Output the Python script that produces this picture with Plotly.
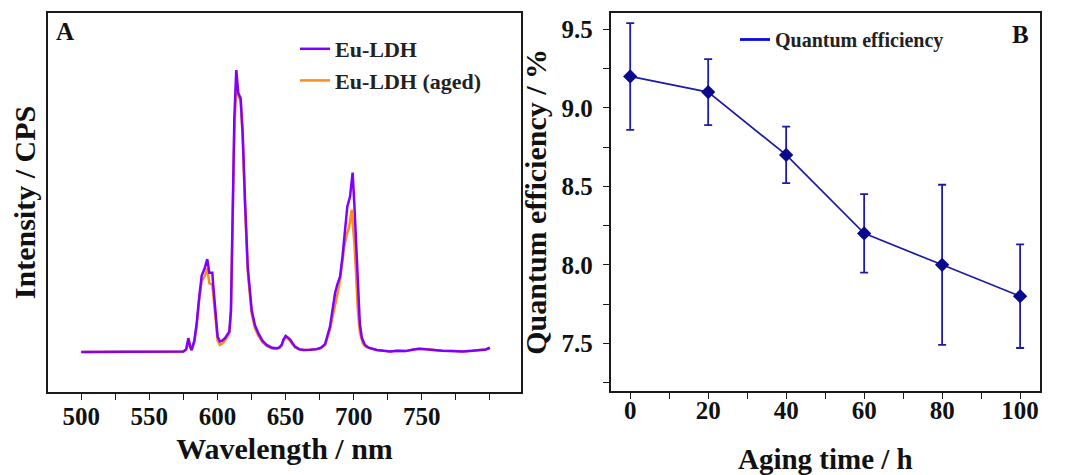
import plotly.graph_objects as go

# ---------------- Data ----------------
# Panel A: emission spectra (normalised intensity, arbitrary units)
wl_eu = [500, 520, 540, 560, 575, 577, 578.6, 580, 581, 583, 584.7, 586.5, 588.4, 590.8, 592.5,
         594, 596.2, 597, 598.2, 600.1, 601.8, 603.5, 605.5, 608.7, 609.9, 611.1, 612.4, 613.8,
         615.3, 617, 618.5, 620.2, 622.2, 625.1, 627.5, 630, 633, 636.1, 640, 643.5, 645.5,
         647.1, 648.5, 650.1, 651.5, 653.2, 655, 656.9, 660, 663, 668, 672.8, 676, 679, 682.6,
         685, 686.3, 688, 690, 691.8, 693.6, 695.3, 697.3, 698.3, 699.2, 700.5, 702.1, 703.3,
         704.5, 706, 708.2, 711, 716.9, 722, 726.6, 732, 738, 743, 748, 753, 758, 765, 772,
         780, 787, 793, 797, 800]
int_eu = [0.000, 0.000, 0.001, 0.001, 0.002, 0.010, 0.049, 0.020, 0.007, 0.040, 0.100, 0.190,
          0.270, 0.300, 0.329, 0.281, 0.281, 0.230, 0.149, 0.054, 0.037, 0.040, 0.049, 0.072,
          0.149, 0.480, 0.834, 1.000, 0.917, 0.900, 0.776, 0.539, 0.303, 0.149, 0.095, 0.066,
          0.040, 0.025, 0.015, 0.013, 0.016, 0.025, 0.045, 0.057, 0.052, 0.045, 0.032, 0.019,
          0.010, 0.007, 0.008, 0.010, 0.015, 0.028, 0.090, 0.160, 0.208, 0.240, 0.267, 0.340,
          0.433, 0.515, 0.551, 0.590, 0.636, 0.520, 0.362, 0.220, 0.100, 0.050, 0.025, 0.015,
          0.007, 0.004, 0.002, 0.004, 0.003, 0.008, 0.011, 0.010, 0.007, 0.004, 0.003, 0.002,
          0.004, 0.006, 0.009, 0.015]

wl_aged = [500, 520, 540, 560, 575, 577, 578.6, 580, 581, 583, 584.7, 586.5, 588.4, 590.8,
           592.5, 594, 596.2, 597, 598.2, 600.1, 601.8, 603.5, 605.5, 608.7, 609.9, 611.1,
           612.4, 613.8, 615.3, 617, 618.5, 620.2, 622.2, 625.1, 627.5, 630, 633, 636.1, 640,
           643.5, 645.5, 647.1, 648.5, 650.1, 651.5, 653.2, 655, 656.9, 660, 663, 668, 672.8,
           676, 679, 682.6, 685, 687.5, 689.5, 691.2, 693, 694.8, 696.7, 698.5, 700.5, 702,
           703, 704.5, 706.6, 709, 716.9, 722, 726.6, 732, 738, 743, 748, 753, 758, 765, 772,
           780, 787, 793, 797, 800]
int_aged = [0.000, 0.000, 0.001, 0.001, 0.002, 0.008, 0.035, 0.015, 0.006, 0.035, 0.090, 0.180,
            0.250, 0.270, 0.297, 0.244, 0.238, 0.200, 0.130, 0.040, 0.025, 0.030, 0.040, 0.065,
            0.140, 0.450, 0.790, 0.939, 0.910, 0.890, 0.760, 0.520, 0.285, 0.135, 0.085, 0.058,
            0.035, 0.021, 0.012, 0.011, 0.014, 0.022, 0.040, 0.052, 0.048, 0.040, 0.028, 0.016,
            0.009, 0.007, 0.008, 0.010, 0.014, 0.025, 0.080, 0.140, 0.196, 0.240, 0.302, 0.370,
            0.415, 0.444, 0.504, 0.385, 0.250, 0.149, 0.070, 0.031, 0.018, 0.007, 0.004, 0.002,
            0.004, 0.003, 0.008, 0.011, 0.010, 0.007, 0.004, 0.003, 0.002, 0.004, 0.006, 0.009,
            0.015]

# Panel B: quantum efficiency vs aging time
aging_time = [0, 20, 40, 60, 80, 100]
quantum_eff = [9.2, 9.1, 8.7, 8.2, 8.0, 7.8]
qe_err = [0.34, 0.21, 0.18, 0.25, 0.51, 0.33]

a_tickvals = [500, 550, 600, 650, 700, 750, 800]
a_ticktext = ["500", "550", "600", "650", "700", "750", ""]
b_xticks = [0, 20, 40, 60, 80, 100]
b_yticks = [7.5, 8.0, 8.5, 9.0, 9.5]

# ---------------- Style ----------------
FONT = "Liberation Serif"
PURPLE = "#8000FF"
ORANGE = "#FF8C1A"
NAVY = "#1C1CA8"
OFF = 8                      # default page (body) margin of the html page
W, H = 1089 - OFF, 475 - OFF


def fx(px):
    return (px - OFF) / W


def fy(py):
    return 1 - (py - OFF) / H


fig = go.Figure()

fig.add_trace(go.Scatter(x=wl_aged, y=int_aged, mode="lines", name="Eu-LDH (aged)",
                         line=dict(color=ORANGE, width=2.5), xaxis="x", yaxis="y",
                         legend="legend", legendrank=2, legendgroup="aged"))
fig.add_trace(go.Scatter(x=wl_eu, y=int_eu, mode="lines", name="Eu-LDH",
                         line=dict(color=PURPLE, width=2.5), xaxis="x", yaxis="y",
                         legend="legend", legendrank=1, legendgroup="eu"))

fig.add_trace(go.Scatter(x=aging_time, y=quantum_eff, mode="lines+markers",
                         name="Quantum efficiency", showlegend=False,
                         line=dict(color=NAVY, width=1.7),
                         marker=dict(symbol="diamond", size=11, color="#0A0A8C"),
                         error_y=dict(type="data", array=qe_err, visible=True,
                                      color=NAVY, thickness=1.8, width=4),
                         xaxis="x2", yaxis="y2"))
# legend entry for panel B
fig.add_trace(go.Scatter(x=[None], y=[None], mode="lines", name="Quantum efficiency",
                         line=dict(color="#0A0AE0", width=2.8), xaxis="x2", yaxis="y2",
                         legend="legend2"))

axis_common = dict(showline=True, mirror=True, linecolor="#1a1a1a", linewidth=1.7,
                   showgrid=False, zeroline=False, ticks="outside", ticklen=6,
                   tickwidth=1.3, tickcolor="#1a1a1a", automargin=False,
                   tickfont=dict(family=FONT, size=25, color="#111", weight="bold"))

fig.update_layout(
    width=W, height=H,
    paper_bgcolor="white", plot_bgcolor="white",
    margin=dict(l=0, r=0, t=0, b=0, autoexpand=False),
    font=dict(family=FONT, color="#111"),
    xaxis=dict(**axis_common, domain=[fx(48), fx(521)], anchor="y",
               range=[475.6, 822.8], tickvals=a_tickvals, ticktext=a_ticktext,
               ticklabelstandoff=-5,
               minor=dict(dtick=25, tick0=500, ticks="outside", ticklen=6, tickwidth=1.3,
                          tickcolor="#1a1a1a"),
               title=dict(text="Wavelength / nm", standoff=9,
                          font=dict(family=FONT, size=30, weight="bold"))),
    yaxis=dict(showline=True, mirror=True, linecolor="#1a1a1a", linewidth=1.7,
               showgrid=False, zeroline=False, showticklabels=False, ticks="",
               automargin=False,
               domain=[fy(392), fy(13)], anchor="x", range=[-0.142, 1.202],
               title=dict(text="Intensity / CPS", standoff=8,
                          font=dict(family=FONT, size=30, weight="bold"))),
    xaxis2=dict(**axis_common, domain=[fx(610.7), fx(1040)], anchor="y2",
                range=[-5, 105.1], tickvals=b_xticks, ticklabelstandoff=-10,
                minor=dict(dtick=10, tick0=0, ticks="outside", ticklen=6, tickwidth=1.3,
                           tickcolor="#1a1a1a"),
                title=dict(text="Aging time / h", standoff=26,
                           font=dict(family=FONT, size=29, weight="bold"))),
    yaxis2=dict(**axis_common, domain=[fy(390.7), fy(13)], anchor="x2",
                range=[7.198, 9.604], tickvals=b_yticks, tickformat=".1f",
                ticklabelstandoff=5,
                minor=dict(dtick=0.25, tick0=7.25, ticks="outside", ticklen=6, tickwidth=1.3,
                           tickcolor="#1a1a1a"),
                title=dict(text="Quantum efficiency / %", standoff=6,
                           font=dict(family=FONT, size=30, weight="bold"))),
    legend=dict(x=fx(295), y=fy(28), xanchor="left", yanchor="top",
                bgcolor="rgba(0,0,0,0)", borderwidth=0, tracegroupgap=0,
                font=dict(family=FONT, size=22, color="#222", weight="bold")),
    legend2=dict(x=fx(735), y=fy(20), xanchor="left", yanchor="top",
                 bgcolor="rgba(0,0,0,0)", borderwidth=0,
                 font=dict(family=FONT, size=20, color="#222", weight="bold")),
    annotations=[
        dict(text="A", x=fx(54), y=fy(32), xref="paper", yref="paper", xanchor="left",
             yanchor="middle", showarrow=False,
             font=dict(family=FONT, size=25, color="#111", weight="bold")),
        dict(text="B", x=fx(1010), y=fy(35), xref="paper", yref="paper", xanchor="left",
             yanchor="middle", showarrow=False,
             font=dict(family=FONT, size=25, color="#111", weight="bold")),
    ],
)

fig.write_html("out.html")
